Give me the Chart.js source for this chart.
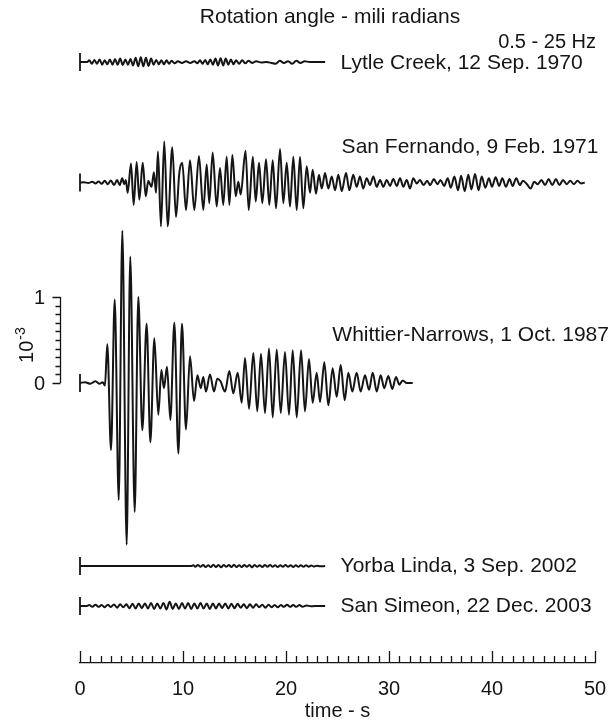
<!DOCTYPE html>
<html>
<head>
<meta charset="utf-8">
<script src="https://cdn.jsdelivr.net/npm/chart.js@4/dist/chart.umd.min.js"></script>
<style>
  html, body { margin: 0; padding: 0; background: #fff; }
  canvas { display: block; }
</style>
</head>
<body>
<canvas id="myChart" width="614" height="723"></canvas>
<script>
// station names, top to bottom
const stations = [
  "Lytle Creek, 12 Sep. 1970",
  "San Fernando, 9 Feb. 1971",
  "Whittier-Narrows, 1 Oct. 1987",
  "Yorba Linda, 3 Sep. 2002",
  "San Simeon, 22 Dec. 2003",
];

// [time s, rotation angle x 1e-3 rad] (turning points)
const lytleCreek = [
  [0, 0], [0.7, 0], [0.9, 0.02], [1.15, -0.02], [1.4, 0.025], [1.65, -0.02], [1.9, 0.03], [2.15, -0.03],
  [2.4, 0.02], [2.65, -0.025], [2.9, 0.03], [3.15, -0.03], [3.4, 0.035], [3.65, -0.03], [3.9, 0.04],
  [4.15, -0.035], [4.4, 0.03], [4.65, -0.03], [4.9, 0.035], [5.15, -0.04], [5.4, 0.05], [5.65, -0.05],
  [5.9, 0.055], [6.15, -0.05], [6.4, 0.05], [6.65, -0.045], [6.9, 0.04], [7.15, -0.03], [7.4, 0.025],
  [7.65, -0.025], [7.9, 0.02], [8.15, -0.025], [8.4, 0.02], [8.65, -0.02], [8.9, 0.015], [9.2, -0.015],
  [9.5, 0.01], [9.9, -0.01], [10.3, 0.008], [10.7, -0.01], [11.1, 0.01], [11.4, -0.015], [11.65, 0.02],
  [11.9, -0.02], [12.15, 0.025], [12.4, -0.025], [12.65, 0.03], [12.9, -0.03], [13.15, 0.04], [13.4, -0.04],
  [13.65, 0.045], [13.9, -0.04], [14.15, 0.04], [14.4, -0.03], [14.65, 0.03], [14.9, -0.025], [15.15, 0.02],
  [15.45, -0.02], [15.75, 0.02], [16.05, -0.015], [16.35, 0.015], [16.7, -0.01], [17.1, 0.008], [17.6, -0.005],
  [18.1, 0], [18.6, -0.01], [19.0, -0.02], [19.4, 0.015], [19.8, -0.01], [20.2, 0.01], [20.6, -0.02],
  [21.0, 0.015], [21.4, -0.01], [21.8, 0.01], [22.3, 0], [23.8, 0],
];

const sanFernando = [
  [0, 0], [0.4, 0.004], [0.8, -0.006], [1.2, 0.008], [1.5, -0.01], [1.8, 0.012], [2.1, -0.015], [2.4, 0.02],
  [2.7, -0.02], [3.0, 0.025], [3.3, -0.03], [3.6, 0.03], [3.85, -0.03], [4.1, 0.05], [4.3, -0.02], [4.45, 0.03],
  [4.63, -0.12], [4.95, 0.22], [5.21, -0.26], [5.5, 0.24], [5.76, -0.2], [6.09, 0.23], [6.38, -0.16],
  [6.63, 0.02], [6.94, -0.05], [7.18, 0.12], [7.38, -0.12], [7.57, 0.36], [7.86, -0.51], [8.18, 0.48],
  [8.51, -0.51], [8.96, 0.41], [9.32, -0.4], [9.64, 0.11], [9.93, 0.23], [10.29, -0.32], [10.68, 0.26],
  [11.1, -0.32], [11.55, 0.31], [11.97, -0.32], [12.3, 0.21], [12.55, -0.24], [12.88, 0.35], [13.27, -0.28],
  [13.59, 0.17], [13.91, -0.26], [14.24, 0.3], [14.5, -0.26], [14.79, 0.32], [15.12, -0.16], [15.37, 0.01],
  [15.6, -0.14], [16.07, 0.37], [16.38, -0.32], [16.78, 0.3], [17.06, -0.22], [17.38, 0.23], [17.7, -0.24],
  [18.06, 0.27], [18.38, -0.26], [18.71, 0.26], [19.03, -0.3], [19.42, 0.39], [19.74, -0.24], [20.07, 0.23],
  [20.39, -0.28], [20.71, 0.3], [21.04, -0.32], [21.36, 0.3], [21.68, -0.3], [22.01, 0.19], [22.33, -0.12],
  [22.59, 0.15], [22.91, -0.13], [23.2, 0.09], [23.47, -0.07], [23.79, 0.11], [24.11, -0.07], [24.44, 0.07],
  [24.76, -0.09], [25.08, 0.09], [25.41, -0.1], [25.83, 0.11], [26.15, -0.09], [26.53, 0.09], [26.86, -0.05],
  [27.18, 0.07], [27.5, -0.07], [27.83, 0.05], [28.16, -0.03], [28.48, 0.07], [28.81, -0.05], [29.13, 0.03],
  [29.45, -0.05], [29.78, 0.03], [30.1, -0.04], [30.42, 0.04], [30.75, -0.04], [31.07, 0.05], [31.39, -0.05],
  [31.72, 0.03], [32.04, -0.07], [32.36, 0.05], [32.69, -0.01], [33.01, 0.03], [33.35, -0.03], [33.7, 0.02],
  [34.0, -0.03], [34.35, 0.04], [34.7, -0.02], [35.0, 0.03], [35.35, -0.04], [35.7, 0.05], [36.0, -0.06],
  [36.35, 0.07], [36.7, -0.09], [37.0, 0.08], [37.35, -0.1], [37.7, 0.09], [38.0, -0.08], [38.35, 0.1],
  [38.7, -0.09], [39.0, 0.07], [39.35, -0.06], [39.7, 0.05], [40.0, -0.05], [40.35, 0.06], [40.7, -0.04],
  [41.0, 0.05], [41.35, -0.05], [41.7, 0.04], [42.0, -0.04], [42.35, 0.05], [42.7, -0.03], [43.0, 0.02],
  [43.4, -0.02], [43.75, -0.07], [44.1, 0.01], [44.45, -0.02], [44.8, 0.03], [45.15, -0.03], [45.5, 0.04],
  [45.85, -0.03], [46.2, 0.04], [46.55, -0.03], [46.9, 0.03], [47.25, -0.02], [47.6, 0.02], [47.95, -0.02],
  [48.3, 0.02], [48.65, -0.01], [49.0, 0],
];

const whittierNarrows = [
  [0, 0], [0.5, 0.01], [1.0, -0.01], [1.5, 0.02], [1.9, -0.01], [2.2, 0.01], [2.42, -0.03],
  [2.65, 0.45], [3.01, -0.78], [3.37, 0.97], [3.76, -1.36], [4.11, 1.77], [4.53, -1.88], [4.88, 1.47],
  [5.31, -1.5], [5.66, 1.0], [6.05, -0.55], [6.47, 0.69], [6.83, -0.69], [7.22, 0.52], [7.6, -0.37],
  [7.9, 0.15], [8.15, -0.06], [8.45, 0.19], [8.77, -0.43], [9.16, 0.7], [9.55, -0.82], [9.9, 0.69],
  [10.29, -0.54], [10.68, 0.31], [11.07, -0.21], [11.4, 0.09], [11.72, -0.06], [11.97, 0.07], [12.23, -0.1],
  [12.62, 0.1], [13.01, -0.1], [13.33, 0.05], [13.64, 0.02], [14.08, -0.1], [14.5, 0.14], [14.88, -0.12],
  [15.31, 0.12], [15.7, -0.23], [16.02, 0.29], [16.41, -0.3], [16.83, 0.35], [17.21, -0.33], [17.57, 0.34],
  [17.96, -0.35], [18.35, 0.4], [18.71, -0.4], [19.1, 0.39], [19.49, -0.35], [19.9, 0.36], [20.29, -0.37],
  [20.65, 0.38], [21.04, -0.4], [21.46, 0.38], [21.84, -0.33], [22.23, 0.28], [22.59, -0.23], [22.98, 0.12],
  [23.3, -0.22], [23.72, 0.24], [24.11, -0.26], [24.53, 0.17], [24.92, -0.16], [25.31, 0.21], [25.7, -0.2],
  [26.05, 0.12], [26.44, -0.1], [26.86, 0.12], [27.25, -0.1], [27.67, 0.09], [28.06, -0.08], [28.42, 0.12],
  [28.81, -0.1], [29.19, 0.09], [29.54, -0.06], [29.93, 0.08], [30.32, -0.07], [30.68, 0.07], [31.0, -0.02],
  [31.33, 0.03], [31.72, 0], [32.3, 0],
];

const yorbaLinda = [
  [0, 0], [10.8, 0], [11.0, 0.01], [11.2, -0.01], [11.45, 0.012], [11.7, -0.01], [11.95, 0.012], [12.2, -0.012],
  [12.45, 0.01], [12.7, -0.012], [12.95, 0.014], [13.2, -0.012], [13.45, 0.012], [13.7, -0.014], [13.95, 0.012],
  [14.2, -0.01], [14.45, 0.012], [14.7, -0.012], [14.95, 0.014], [15.2, -0.012], [15.45, 0.01], [15.7, -0.012],
  [15.95, 0.012], [16.2, -0.01], [16.45, 0.012], [16.7, -0.014], [16.95, 0.012], [17.2, -0.01], [17.45, 0.01],
  [17.7, -0.012], [17.95, 0.012], [18.2, -0.01], [18.45, 0.012], [18.7, -0.01], [18.95, 0.01], [19.2, -0.012],
  [19.45, 0.01], [19.7, -0.01], [19.95, 0.012], [20.2, -0.01], [20.45, 0.01], [20.7, -0.012], [20.95, 0.01],
  [21.2, -0.01], [21.45, 0.008], [21.7, -0.01], [21.95, 0.008], [22.2, -0.008], [22.45, 0.006], [22.7, -0.006],
  [23.0, 0.004], [23.3, -0.004], [23.8, 0],
];

const sanSimeon = [
  [0, 0], [0.6, 0], [0.9, 0.01], [1.2, -0.01], [1.5, 0.015], [1.8, -0.01], [2.1, 0.012], [2.4, -0.015],
  [2.7, 0.015], [3.0, -0.012], [3.3, 0.018], [3.6, -0.02], [3.9, 0.02], [4.2, -0.015], [4.5, 0.02],
  [4.8, -0.025], [5.1, 0.025], [5.4, -0.03], [5.7, 0.03], [6.0, -0.025], [6.3, 0.03], [6.6, -0.03],
  [6.9, 0.035], [7.2, -0.035], [7.5, 0.03], [7.8, -0.03], [8.1, 0.035], [8.4, -0.04], [8.7, 0.05],
  [9.0, -0.035], [9.3, 0.03], [9.6, -0.035], [9.9, 0.035], [10.2, -0.03], [10.5, 0.035], [10.8, -0.035],
  [11.1, 0.03], [11.4, -0.03], [11.7, 0.035], [12.0, -0.03], [12.3, 0.03], [12.6, -0.035], [12.9, 0.03],
  [13.2, -0.03], [13.5, 0.03], [13.8, -0.025], [14.1, 0.03], [14.4, -0.03], [14.7, 0.025], [15.0, -0.025],
  [15.3, 0.025], [15.6, -0.02], [15.9, 0.02], [16.2, -0.025], [16.5, 0.02], [16.8, -0.02], [17.1, 0.02],
  [17.4, -0.015], [17.7, 0.015], [18.0, -0.02], [18.3, 0.015], [18.6, -0.015], [18.9, 0.012], [19.2, -0.015],
  [19.5, 0.012], [19.8, -0.01], [20.1, 0.015], [20.4, -0.01], [20.7, 0.012], [21.0, -0.01], [21.3, 0.01],
  [21.6, -0.008], [22.0, 0.006], [22.4, -0.004], [22.8, 0], [23.8, 0],
];

const timeTicks = [0, 10, 20, 30, 40, 50];
const scaleBarTicks = [0, 1];

// layout: baseline of each trace (in 1e-3 units above the time axis) and label placement
const traces = [lytleCreek, sanFernando, whittierNarrows, yorbaLinda, sanSimeon];
const baselines = [6.988, 5.587, 3.256, 1.128, 0.663];
const labelX = [25.3, 25.4, 24.5, 25.3, 25.3];
const labelDy = [1, -35, -48, 0, 0];
const Y_MAX = 7.477; // 643 px plot height at 86 px per 1e-3 rad

const FONT = '"Liberation Sans", Arial, sans-serif';
const INK = "#151515";

const decorations = {
  id: "decorations",
  afterDraw(chart) {
    const { ctx, chartArea, scales } = chart;
    const x = scales.x, y = scales.y;
    ctx.save();
    ctx.strokeStyle = INK;
    ctx.fillStyle = INK;
    ctx.lineWidth = 1.3;

    // time axis ticks pointing up
    ctx.beginPath();
    for (let t = 0; t <= 50; t++) {
      const px = Math.round(x.getPixelForValue(t)) + 0.5;
      const len = t % 10 === 0 ? 12 : 7;
      ctx.moveTo(px, chartArea.bottom);
      ctx.lineTo(px, chartArea.bottom - len);
    }
    ctx.stroke();

    // amplitude scale bar next to Whittier-Narrows
    const bx = chartArea.left - 19.5;
    const base = baselines[2];
    ctx.beginPath();
    ctx.moveTo(bx, y.getPixelForValue(base));
    ctx.lineTo(bx, y.getPixelForValue(base + 1));
    for (let k = 0; k <= 10; k++) {
      const py = Math.round(y.getPixelForValue(base + k / 10)) + 0.5;
      const len = k % 10 === 0 ? 8 : 5;
      ctx.moveTo(bx, py);
      ctx.lineTo(bx - len, py);
    }
    ctx.stroke();

    ctx.font = "20px " + FONT;
    ctx.textAlign = "center";
    ctx.textBaseline = "middle";
    scaleBarTicks.forEach(v => {
      ctx.fillText(String(v), bx - 21, y.getPixelForValue(base + v) + 1);
    });

    // rotated 10^-3 unit label
    ctx.save();
    ctx.translate(33, y.getPixelForValue(base) - 20);
    ctx.rotate(-Math.PI / 2);
    ctx.textAlign = "left";
    ctx.textBaseline = "alphabetic";
    ctx.font = "20px " + FONT;
    ctx.fillText("10", 0, 0);
    const w = ctx.measureText("10").width;
    ctx.font = "14px " + FONT;
    ctx.fillText("-3", w + 1, -8);
    ctx.restore();

    // station labels
    ctx.font = "21px " + FONT;
    ctx.textAlign = "left";
    ctx.textBaseline = "middle";
    stations.forEach((name, i) => {
      ctx.fillText(name, x.getPixelForValue(labelX[i]), y.getPixelForValue(baselines[i]) + labelDy[i]);
    });

    // heading and band
    ctx.font = "21px " + FONT;
    ctx.textAlign = "center";
    ctx.fillText("Rotation angle - mili radians", 330, 17);
    ctx.textAlign = "right";
    ctx.font = "20px " + FONT;
    ctx.fillText("0.5 - 25 Hz", 596, 42);
    ctx.restore();
  },
};

const datasets = traces.map((tr, i) => ({
  label: stations[i],
  data: tr.map(p => ({ x: p[0], y: p[1] + baselines[i] })),
  borderColor: INK,
  borderWidth: 2,
  pointRadius: 0,
  cubicInterpolationMode: "monotone",
  clip: false,
}));

// start bars at t = 0
datasets.push({
  label: "start",
  data: baselines.map(b => ({ x: 0, y: b })),
  showLine: false,
  pointStyle: "line",
  rotation: 90,
  pointRadius: 9,
  borderWidth: 1.8,
  borderColor: INK,
  clip: false,
});

new Chart(document.getElementById("myChart"), {
  type: "line",
  data: { datasets },
  options: {
    responsive: false,
    animation: false,
    events: [],
    layout: { autoPadding: false, padding: { left: 80, right: 19, top: 20, bottom: 0 } },
    plugins: { legend: { display: false }, tooltip: { enabled: false } },
    scales: {
      x: {
        type: "linear",
        min: 0,
        max: 50,
        border: { display: true, color: INK, width: 1.3 },
        grid: { display: false, drawTicks: false },
        afterBuildTicks: s => { s.ticks = timeTicks.map(v => ({ value: v })); },
        afterFit: s => { s.height = 60; s.paddingLeft = 6; s.paddingRight = 11; },
        ticks: { color: INK, font: { size: 20, family: FONT }, padding: 14, maxRotation: 0, autoSkip: false },
        title: { display: true, text: "time - s", color: INK, font: { size: 20, family: FONT }, padding: { top: 0, bottom: 0 } },
      },
      y: { type: "linear", display: false, min: 0, max: Y_MAX },
    },
  },
  plugins: [decorations],
});
</script>
</body>
</html>
